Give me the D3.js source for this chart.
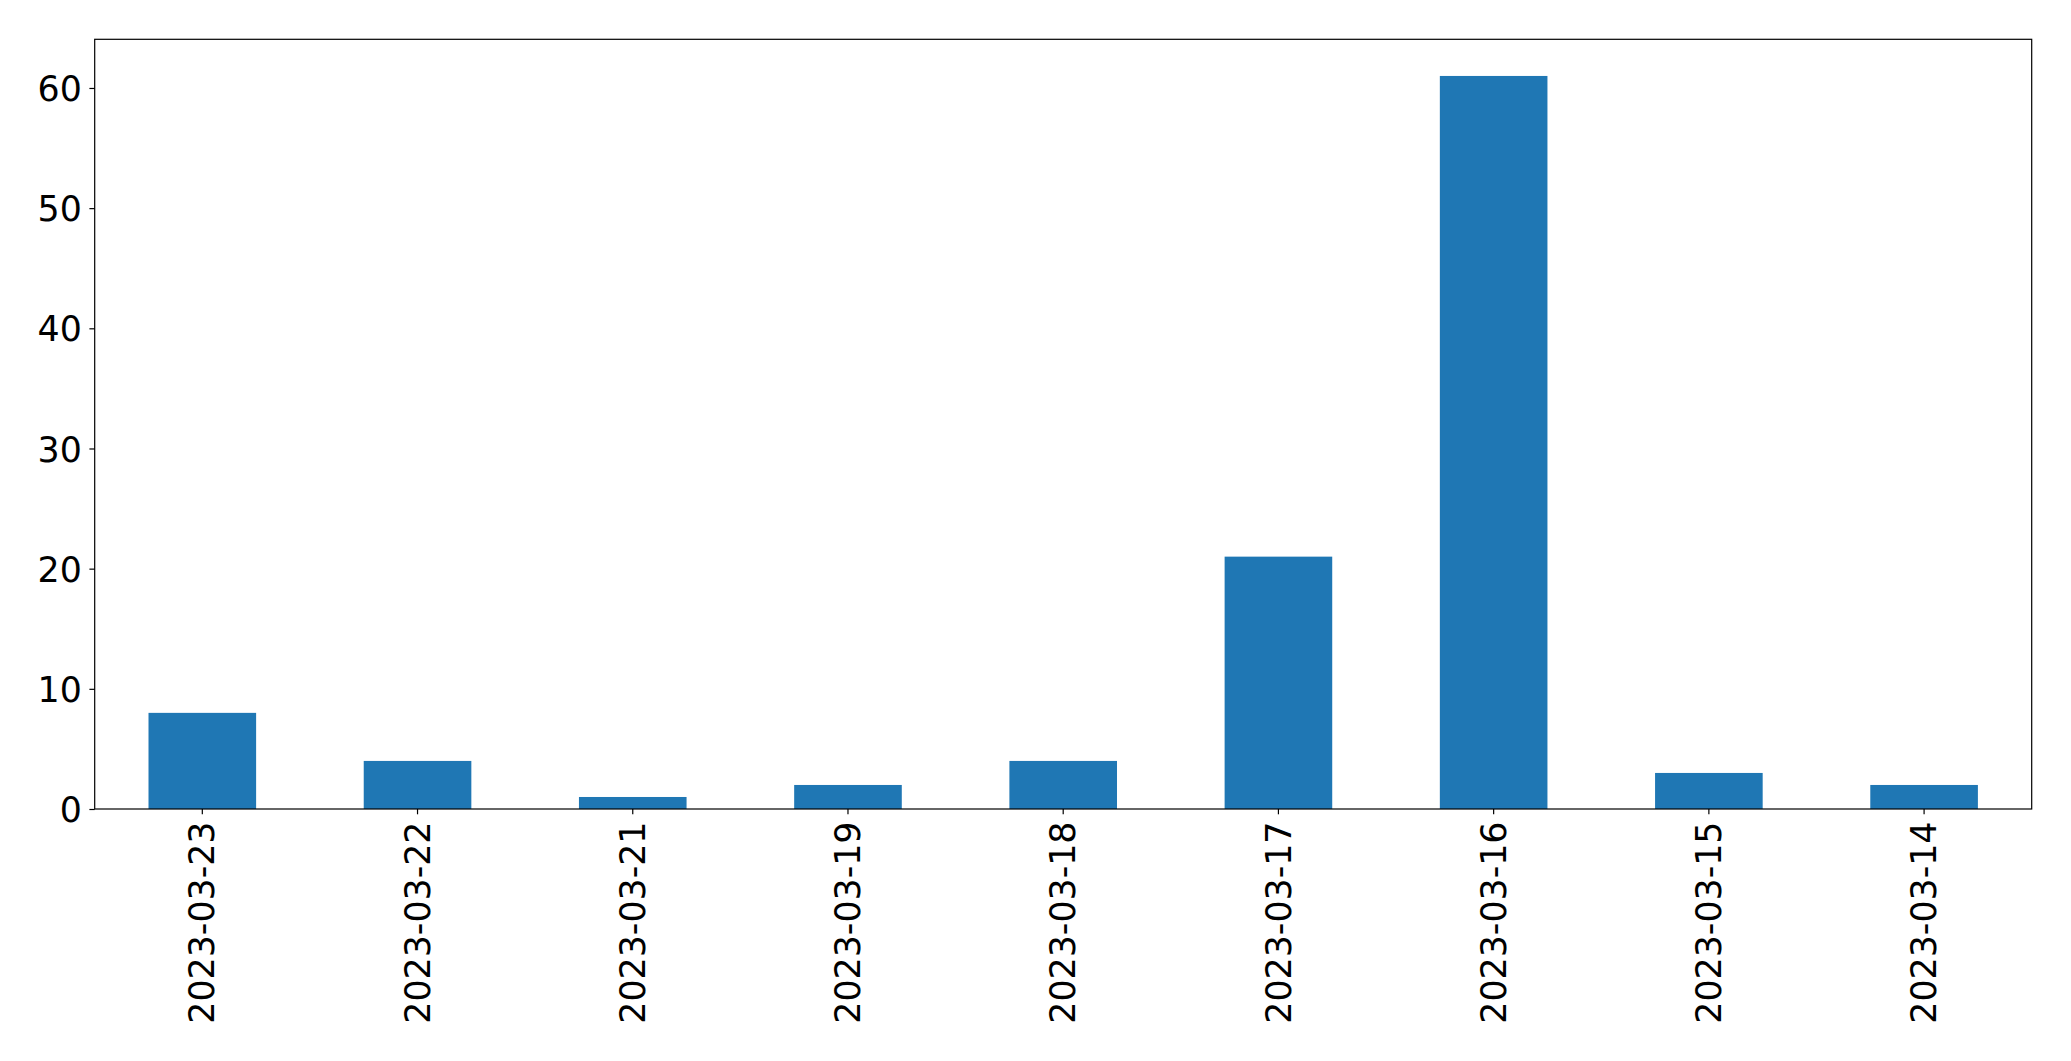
<!DOCTYPE html>
<html><head><meta charset="utf-8">
<script src="https://cdn.jsdelivr.net/npm/d3@7"></script>
<style>body{margin:0;background:#fff;}svg{display:block;}</style>
</head><body>
<script>
const categories = ["2023-03-23","2023-03-22","2023-03-21","2023-03-19","2023-03-18","2023-03-17","2023-03-16","2023-03-15","2023-03-14"];
const values = [8,4,1,2,4,21,61,3,2];
const yTicks = [0,10,20,30,40,50,60];

const W = 2071, H = 1061;
const m = {left:94.7, right:2031.7, top:39.3, bottom:809};
const svg = d3.select("body").append("svg").attr("width",W).attr("height",H);

const x = d3.scaleBand().domain(categories).range([m.left,m.right]).paddingInner(0.5).paddingOuter(0.25);
const y = d3.scaleLinear().domain([0, d3.max(values)*1.05]).range([m.bottom,m.top]);

svg.append("g").selectAll("rect").data(values).join("rect")
  .attr("x",(d,i)=>x(categories[i]))
  .attr("width",x.bandwidth())
  .attr("y",d=>y(d))
  .attr("height",d=>y(0)-y(d))
  .attr("fill","#1f77b4");

const font = "'DejaVu Sans', sans-serif";
const fs = 34.8;

const ya = svg.append("g").attr("transform",`translate(${m.left},0)`)
  .call(d3.axisLeft(y).tickValues(yTicks).tickSize(5.3).tickPadding(7.5).tickFormat(d3.format("d")));
ya.select(".domain").remove();
ya.selectAll("line").attr("stroke","#000").attr("stroke-width",1.2);
ya.selectAll("text").attr("font-family",font).attr("font-size",fs).attr("fill","#000").attr("dy","0.36em");

const xa = svg.append("g").attr("transform",`translate(0,${m.bottom})`)
  .call(d3.axisBottom(x).tickSize(5.3).tickPadding(0));
xa.select(".domain").remove();
xa.selectAll("line").attr("stroke","#000").attr("stroke-width",1.2);
xa.selectAll("text").attr("font-family",font).attr("font-size",fs).attr("fill","#000")
  .attr("text-anchor","end").attr("transform","rotate(-90)")
  .attr("x",-12.5).attr("y",0).attr("dy","0.35em");

svg.append("rect").attr("x",m.left).attr("y",m.top).attr("width",m.right-m.left).attr("height",m.bottom-m.top)
  .attr("fill","none").attr("stroke","#000").attr("stroke-width",1.2);
</script>
</body></html>
